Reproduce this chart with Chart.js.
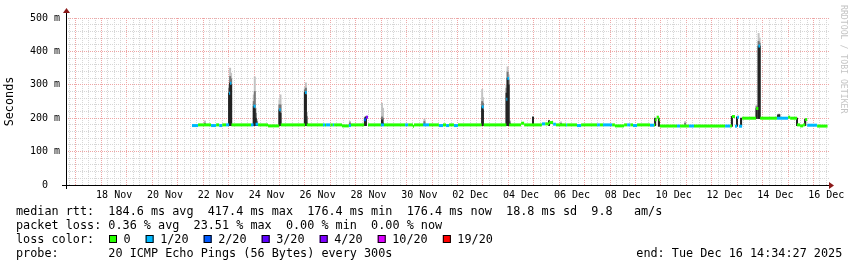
<!DOCTYPE html>
<html>
<head>
<meta charset="utf-8">
<script src="https://cdn.jsdelivr.net/npm/chart.js@4/dist/chart.umd.min.js"></script>
<style>
  body { margin: 0; background: #fff; }
  canvas { display: block; }
</style>
</head>
<body>
<canvas id="myChart" width="857" height="267"></canvas>
<script>
// time axis is in days counted from 00:00 Nov 16 (so 01 Dec = 31)
const startDay = 16.6073   // Nov 16 14:34:27
const endDay = 46.6073     // Dec 16 14:34:27

const labelDays = [18, 20, 22, 24, 26, 28, 30, 32, 34, 36, 38, 40, 42, 44, 46]
const tickLabels = ['18 Nov', '20 Nov', '22 Nov', '24 Nov', '26 Nov', '28 Nov', '30 Nov',
  '02 Dec', '04 Dec', '06 Dec', '08 Dec', '10 Dec', '12 Dec', '14 Dec', '16 Dec']

// median rtt (ms), as steps: value holds from its time to the next one
const medianTimes = [21.56, 21.80, 22.31, 22.51, 22.63, 22.75, 22.90, 23.02, 23.06, 23.11,
  23.88, 23.98, 24.06, 24.16, 24.55, 24.99, 25.05, 26.01, 26.07, 26.71,
  26.79, 26.83, 27.00, 27.10, 27.15, 27.46, 27.73, 27.81, 28.33, 28.40,
  28.48, 28.99, 29.11, 29.94, 30.06, 30.25, 30.29, 30.65, 30.88, 31.27,
  31.43, 31.55, 31.67, 31.86, 32.02, 32.95, 33.03, 33.92, 33.96, 34.03,
  34.50, 34.62, 35.32, 35.45, 35.60, 35.76, 35.87, 36.27, 36.31, 36.70,
  36.86, 37.49, 37.60, 37.72, 38.08, 38.19, 38.55, 38.67, 38.80, 38.90,
  39.06, 39.57, 39.73, 39.77, 39.83, 39.92, 39.96, 40.63, 40.75, 41.10,
  41.30, 42.52, 42.72, 42.79, 42.91, 42.99, 43.07, 43.19, 43.74, 43.83,
  43.90, 44.56, 45.00, 45.08, 45.35, 45.47, 45.59, 45.67, 45.75, 46.14]
const medianValues = [178, 180, 178, 180, 178, 180, 180, 275, 305, 180,
  180, 236, 182, 180, 177, 225, 180, 277, 180, 180,
  180, 180, 180, 180, 180, 177, 178, 180, 195, 203,
  180, 180, 180, 180, 180, 176, 180, 180, 180, 178,
  180, 178, 180, 178, 180, 234, 180, 257, 319, 180,
  185, 180, 183, 183, 187, 182, 180, 180, 180, 178,
  180, 180, 180, 180, 180, 177, 180, 180, 180, 178,
  180, 179, 180, 195, 203, 195, 176.6, 176.6, 176.6, 176.6,
  176.6, 176.6, 176.6, 205, 176, 203, 176, 200, 229, 416,
  200, 200, 203, 200, 180, 177, 180, 196, 179, 176.4]
// pings lost out of 20 for each step
const medianLoss = [1, 0, 1, 0, 1, 0, 1, 1, 1, 0,
  1, 1, 1, 0, 0, 1, 0, 1, 0, 1,
  0, 1, 0, 1, 0, 0, 1, 0, 2, 4,
  0, 1, 0, 1, 0, 0, 0, 1, 0, 1,
  0, 1, 0, 1, 0, 1, 0, 1, 1, 0,
  0, 0, 1, 0, 0, 1, 0, 1, 0, 1,
  0, 1, 0, 1, 0, 0, 0, 1, 0, 1,
  0, 1, 0, 0, 0, 0, 0, 1, 0, 1,
  0, 1, 0, 0, 1, 1, 1, 0, 0, 1,
  0, 1, 0, 0, 0, 0, 0, 0, 1, 0]
const dataEnd = 46.55

// smoke (spread of the 20 pings), ms
const smokeTimes = [22.07, 23.02, 23.06, 23.10, 23.99, 24.03, 24.07, 24.12, 25.00, 25.04,
  26.00, 26.04, 26.08, 27.77, 28.36, 28.40, 29.03, 29.07, 30.70, 32.97,
  33.00, 33.93, 33.97, 34.01, 34.05, 34.97, 35.60, 36.07, 39.77, 39.92,
  40.95, 42.79, 42.99, 43.15, 43.76, 43.84, 43.88, 44.60, 44.65, 45.35, 45.67]
const smokeLow = [178, 178, 178, 178, 178, 178, 178, 178, 178, 178,
  178, 178, 178, 178, 178, 178, 178, 178, 178, 178,
  178, 178, 178, 178, 178, 178, 178, 178, 178, 176,
  176, 176, 176, 176, 199, 199, 199, 199, 199, 178, 178]
const smokeDark = [178, 275, 305, 300, 236, 228, 200, 180, 225, 215,
  277, 270, 185, 180, 200, 203, 195, 185, 182, 234,
  225, 275, 320, 300, 185, 203, 192, 180, 200, 200,
  176, 205, 203, 200, 229, 416, 416, 208, 210, 200, 196]
const smokeMid = [185, 290, 325, 318, 250, 280, 215, 190, 240, 240,
  285, 290, 205, 186, 202, 205, 204, 200, 190, 250,
  245, 290, 338, 315, 190, 204, 193, 185, 200, 200,
  185, 205, 203, 200, 235, 430, 425, 211, 212, 200, 197]
const smokeHigh = [192, 300, 350, 335, 270, 324, 230, 196, 255, 270,
  292, 306, 218, 191, 204, 206, 245, 230, 197, 286,
  262, 300, 354, 330, 194, 205, 194, 189, 200, 200,
  190, 205, 203, 200, 240, 454, 440, 212, 212, 200, 198]

const lossLevels = [0, 1, 2, 3, 4, 10, 19]
const lossNames = ['0', '1/20', '2/20', '3/20', '4/20', '10/20', '19/20']
const lossColors = ['#26ff00', '#00b8ff', '#0059ff', '#5e00ff', '#7e00ff', '#dd00ff', '#ff0000']

const statsLine = 'median rtt:  184.6 ms avg  417.4 ms max  176.4 ms min  176.4 ms now  18.8 ms sd  9.8   am/s'
const packetLine = 'packet loss: 0.36 % avg  23.51 % max  0.00 % min  0.00 % now'
const probeLine = 'probe:       20 ICMP Echo Pings (56 Bytes) every 300s'
const endLine = 'end: Tue Dec 16 14:34:27 2025'

const mono = "'DejaVu Sans Mono', monospace"
Chart.defaults.font.family = mono
Chart.defaults.color = '#000'

function lossColor(lost){
  let c = lossColors[0]
  lossLevels.forEach((l, i) => { if (lost >= l) c = lossColors[i] })
  return c
}

// flat pieces of the median, no vertical joins (like rrdtool's per-loss lines)
const medianPoints = []
const medianColors = []
medianTimes.forEach((t, i) => {
  const next = i < medianTimes.length - 1 ? medianTimes[i + 1] : dataEnd
  medianPoints.push({x: t, y: medianValues[i]}, {x: next, y: medianValues[i]}, {x: next, y: null})
  const c = lossColor(medianLoss[i])
  medianColors.push(c, c, c)
})

function smokeSet(tops, color, order){
  return {
    type: 'bar',
    data: smokeTimes.map((t, i) => ({x: t, y: [smokeLow[i], tops[i]]})),
    backgroundColor: color,
    borderWidth: 0,
    barThickness: 1.3,
    grouped: false,
    order: order
  }
}

const minorGrid = '#d6d6d6'
const majorGrid = '#eea6a6'

const rrdDecor = {
  id: 'rrdDecor',
  afterDatasetsDraw(chart){
    const ctx = chart.ctx
    const a = chart.chartArea
    ctx.save()
    ctx.strokeStyle = '#000'
    ctx.lineWidth = 1
    ctx.beginPath()
    ctx.moveTo(a.left - 4, a.bottom + 0.5)
    ctx.lineTo(a.right + 1, a.bottom + 0.5)
    ctx.moveTo(a.left + 0.5, a.top - 5)
    ctx.lineTo(a.left + 0.5, a.bottom + 4)
    ctx.stroke()
    ctx.fillStyle = '#8b1a1a'
    ctx.beginPath()
    ctx.moveTo(a.right, a.bottom - 3)
    ctx.lineTo(a.right + 5, a.bottom + 0.5)
    ctx.lineTo(a.right, a.bottom + 4)
    ctx.fill()
    ctx.beginPath()
    ctx.moveTo(a.left - 3, a.top - 5)
    ctx.lineTo(a.left + 0.5, a.top - 10)
    ctx.lineTo(a.left + 4, a.top - 5)
    ctx.fill()
    ctx.restore()
  },
  afterDraw(chart){
    const ctx = chart.ctx
    const cw = 7.13
    ctx.save()
    ctx.font = '11.8px ' + mono
    ctx.fillStyle = '#000'
    ctx.textBaseline = 'alphabetic'
    ctx.fillText(statsLine, 16, 215)
    ctx.fillText(packetLine, 16, 229)
    ctx.fillText('loss color:', 16, 243)
    let x = 109
    lossNames.forEach((name, i) => {
      ctx.fillStyle = lossColors[i]
      ctx.fillRect(x, 235, 8, 8)
      ctx.strokeStyle = '#000'
      ctx.strokeRect(x + 0.5, 235.5, 7, 7)
      ctx.fillStyle = '#000'
      ctx.fillText(name, x + 14.5, 243)
      x += 14.5 + name.length * cw + 15
    })
    ctx.fillText(probeLine, 16, 257)
    ctx.fillText(endLine, 16 + 87 * cw, 257)

    ctx.font = '8.2px ' + mono
    ctx.fillStyle = '#c4c4c4'
    ctx.translate(843, 5)
    ctx.rotate(Math.PI / 2)
    ctx.textBaseline = 'middle'
    ctx.fillText('RRDTOOL / TOBI OETIKER', 0, 0)
    ctx.restore()
  }
}

new Chart(document.getElementById('myChart'), {
  type: 'line',
  data: {
    datasets: [
      {
        data: medianPoints,
        borderWidth: 3,
        borderCapStyle: 'butt',
        pointRadius: 0,
        spanGaps: false,
        fill: false,
        borderColor: lossColors[0],
        segment: { borderColor: ctx => medianColors[ctx.p0DataIndex] },
        order: 0
      },
      smokeSet(smokeDark, '#232323', 1),
      smokeSet(smokeMid, '#777777', 2),
      smokeSet(smokeHigh, '#c2c2c2', 3)
    ]
  },
  options: {
    responsive: false,
    animation: false,
    devicePixelRatio: 1,
    layout: { padding: { left: 0, right: 28, top: 18, bottom: 62 } },
    plugins: { legend: { display: false }, tooltip: { enabled: false } },
    scales: {
      x: {
        type: 'linear',
        min: startDay,
        max: endDay,
        offset: false,
        bounds: 'data',
        afterBuildTicks: s => {
          const t = []
          for (let k = Math.ceil(startDay * 4); k <= Math.floor(endDay * 4); k++) t.push({value: k / 4})
          s.ticks = t
        },
        afterFit: s => { s.height = 20 },
        ticks: {
          autoSkip: false,
          maxRotation: 0,
          minRotation: 0,
          padding: 4,
          font: { size: 10 },
          callback: v => {
            const i = labelDays.findIndex(d => Math.round(v * 4) === d * 4 + 2)
            return i >= 0 ? tickLabels[i] : ''
          }
        },
        grid: {
          offset: false,
          drawTicks: false,
          lineWidth: 1,
          color: c => Math.round(c.tick.value * 4) % 4 === 0 ? majorGrid : minorGrid
        },
        border: { display: false, dash: [1, 1] }
      },
      y: {
        min: 0,
        max: 500,
        bounds: 'data',
        afterBuildTicks: s => {
          const t = []
          for (let v = 0; v <= 500; v += 20) t.push({value: v})
          s.ticks = t
        },
        afterFit: s => { s.width = 66 },
        title: { display: true, text: 'Seconds', font: { size: 11.8 }, padding: { top: 3, bottom: 0 } },
        ticks: {
          autoSkip: false,
          padding: 6,
          font: { size: 10 },
          callback: v => v % 100 !== 0 ? '' : (v === 0 ? '0  ' : v + ' m')
        },
        grid: {
          drawTicks: false,
          lineWidth: 1,
          color: c => c.tick.value % 100 === 0 ? majorGrid : minorGrid
        },
        border: { display: false, dash: [1, 1] }
      }
    }
  },
  plugins: [rrdDecor]
})
</script>
</body>
</html>
